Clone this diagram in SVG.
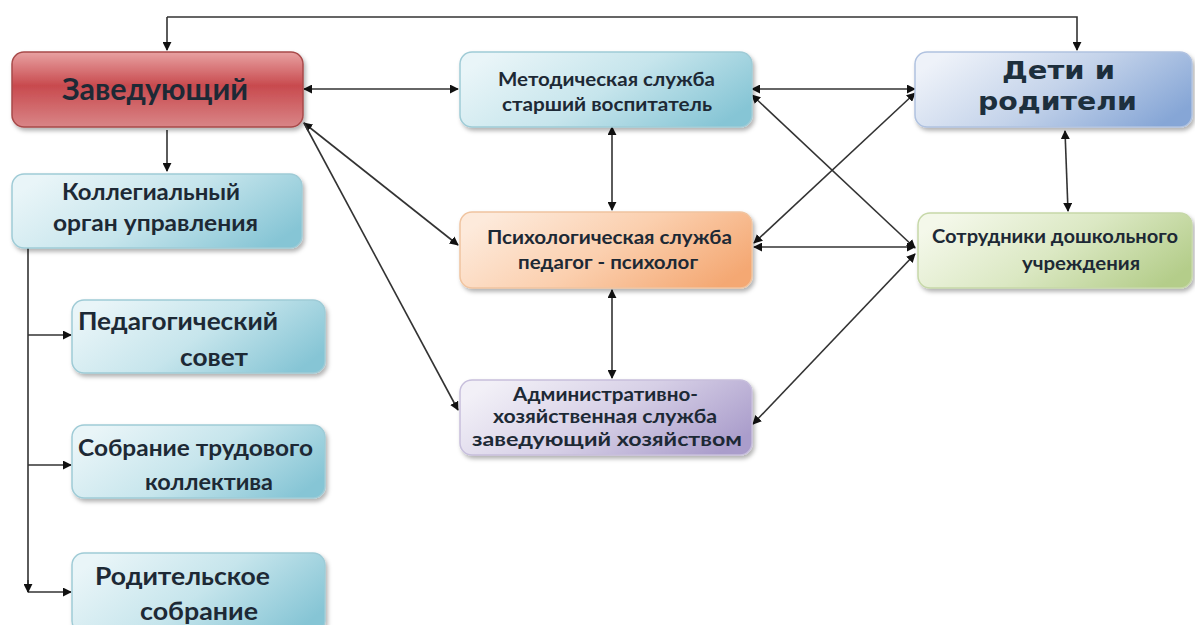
<svg xmlns="http://www.w3.org/2000/svg" width="1195" height="625" viewBox="0 0 1195 625">
<style>
.t{font-family:"Lato","Open Sans",sans-serif;font-weight:bold;fill:#1d2935}
.w{font-family:"DejaVu Sans","Verdana",sans-serif;font-weight:bold;fill:#1d2f3d}
.c{stroke:#333;stroke-width:1.6;fill:none}
.box{stroke-width:1.5}
</style>
<defs>
<marker id="ah" viewBox="0 0 10 10" refX="9" refY="5" markerWidth="9" markerHeight="9" orient="auto-start-reverse" markerUnits="userSpaceOnUse">
<path d="M0,0 L10,5 L0,10 z" fill="#111"/>
</marker>
<filter id="sh" x="-5%" y="-10%" width="115%" height="130%">
<feDropShadow dx="2" dy="3" stdDeviation="2" flood-color="#000" flood-opacity="0.3"/>
</filter>
<linearGradient id="gRed" x1="0" y1="0" x2="0" y2="1">
<stop offset="0" stop-color="#e8a2a2"/>
<stop offset="0.45" stop-color="#c84a4e"/>
<stop offset="1" stop-color="#d98587"/>
</linearGradient>
<linearGradient id="gCyan" x1="0" y1="0.3" x2="1" y2="0.7">
<stop offset="0" stop-color="#e9f5f8"/>
<stop offset="0.5" stop-color="#c6e5ec"/>
<stop offset="1" stop-color="#86c5d5"/>
</linearGradient>
<linearGradient id="gOr" x1="0" y1="0.3" x2="1" y2="0.7">
<stop offset="0" stop-color="#fdeadb"/>
<stop offset="0.5" stop-color="#fbcfae"/>
<stop offset="1" stop-color="#f4a873"/>
</linearGradient>
<linearGradient id="gPu" x1="0" y1="0.3" x2="1" y2="0.7">
<stop offset="0" stop-color="#f2f0f7"/>
<stop offset="0.5" stop-color="#d6cfe6"/>
<stop offset="1" stop-color="#aa9dcb"/>
</linearGradient>
<linearGradient id="gBl" x1="0" y1="0.3" x2="1" y2="0.7">
<stop offset="0" stop-color="#eef2f9"/>
<stop offset="0.5" stop-color="#c4d3ea"/>
<stop offset="1" stop-color="#86a6d6"/>
</linearGradient>
<linearGradient id="gGr" x1="0" y1="0.3" x2="1" y2="0.7">
<stop offset="0" stop-color="#f4f8ea"/>
<stop offset="0.5" stop-color="#dbe8c3"/>
<stop offset="1" stop-color="#b4cd8a"/>
</linearGradient>
</defs>

<g id="connectors" class="c">
<polyline points="167,17 1077,17 1077,50" marker-end="url(#ah)"/>
<line x1="167" y1="17" x2="167" y2="50" marker-end="url(#ah)"/>
<line x1="167" y1="130" x2="167" y2="171" marker-end="url(#ah)"/>
<polyline points="28,248 28,592"/>
<line x1="28" y1="335" x2="71" y2="335" marker-end="url(#ah)"/>
<line x1="28" y1="465" x2="71" y2="465" marker-end="url(#ah)"/>
<line x1="28" y1="592" x2="71" y2="592" marker-end="url(#ah)"/>
<line x1="28" y1="580" x2="28" y2="592" marker-end="url(#ah)"/>
<line x1="304" y1="89" x2="458" y2="89" marker-start="url(#ah)" marker-end="url(#ah)"/>
<line x1="304" y1="123" x2="458" y2="245" marker-start="url(#ah)" marker-end="url(#ah)"/>
<line x1="304" y1="123" x2="458" y2="410" marker-end="url(#ah)"/>
<line x1="612" y1="127" x2="612" y2="210" marker-start="url(#ah)" marker-end="url(#ah)"/>
<line x1="612" y1="290" x2="612" y2="378" marker-start="url(#ah)" marker-end="url(#ah)"/>
<line x1="752" y1="89" x2="915" y2="89" marker-start="url(#ah)" marker-end="url(#ah)"/>
<line x1="752" y1="95" x2="915" y2="248" marker-start="url(#ah)" marker-end="url(#ah)"/>
<line x1="754" y1="243" x2="915" y2="93" marker-start="url(#ah)" marker-end="url(#ah)"/>
<line x1="754" y1="247" x2="915" y2="247" marker-start="url(#ah)" marker-end="url(#ah)"/>
<line x1="753" y1="424" x2="915" y2="254" marker-start="url(#ah)" marker-end="url(#ah)"/>
<line x1="1065" y1="131" x2="1068" y2="211" marker-start="url(#ah)" marker-end="url(#ah)"/>
</g>

<g id="n-zav">
<rect class="box" x="12" y="52" width="291" height="75" rx="12" fill="url(#gRed)" stroke="#a84a4a" filter="url(#sh)"/>
<text class="t" x="62" y="100" font-size="30" textLength="186" lengthAdjust="spacingAndGlyphs">Заведующий</text>
</g>
<g id="n-koll">
<rect class="box" x="12" y="174" width="290" height="74" rx="12" fill="url(#gCyan)" stroke="#9fcbd6" filter="url(#sh)"/>
<text class="t" x="62" y="200" font-size="23" textLength="178" lengthAdjust="spacingAndGlyphs">Коллегиальный</text>
<text class="t" x="53" y="231" font-size="23" textLength="205" lengthAdjust="spacingAndGlyphs">орган управления</text>
</g>
<g id="n-ped">
<rect class="box" x="72" y="300" width="253" height="73" rx="12" fill="url(#gCyan)" stroke="#9fcbd6" filter="url(#sh)"/>
<text class="t" x="78" y="330" font-size="24" textLength="200" lengthAdjust="spacingAndGlyphs">Педагогический</text>
<text class="t" x="180" y="366" font-size="24" textLength="68" lengthAdjust="spacingAndGlyphs">совет</text>
</g>
<g id="n-sobr">
<rect class="box" x="72" y="425" width="253" height="73" rx="12" fill="url(#gCyan)" stroke="#9fcbd6" filter="url(#sh)"/>
<text class="t" x="78" y="456" font-size="23" textLength="235" lengthAdjust="spacingAndGlyphs">Собрание трудового</text>
<text class="t" x="145" y="490" font-size="23" textLength="128" lengthAdjust="spacingAndGlyphs">коллектива</text>
</g>
<g id="n-rod">
<rect class="box" x="72" y="553" width="253" height="80" rx="12" fill="url(#gCyan)" stroke="#9fcbd6" filter="url(#sh)"/>
<text class="t" x="95" y="585" font-size="25" textLength="175" lengthAdjust="spacingAndGlyphs">Родительское</text>
<text class="t" x="140" y="620" font-size="25" textLength="118" lengthAdjust="spacingAndGlyphs">собрание</text>
</g>
<g id="n-met">
<rect class="box" x="460" y="52" width="292" height="75" rx="12" fill="url(#gCyan)" stroke="#9fcbd6" filter="url(#sh)"/>
<text class="t" x="498" y="86" font-size="19" textLength="217" lengthAdjust="spacingAndGlyphs">Методическая служба</text>
<text class="t" x="502" y="111" font-size="19" textLength="210" lengthAdjust="spacingAndGlyphs">старший воспитатель</text>
</g>
<g id="n-psy">
<rect class="box" x="460" y="212" width="292" height="76" rx="12" fill="url(#gOr)" stroke="#f0c4a0" filter="url(#sh)"/>
<text class="t" x="487" y="244" font-size="19" textLength="245" lengthAdjust="spacingAndGlyphs">Психологическая служба</text>
<text class="t" x="518" y="269" font-size="19" textLength="180" lengthAdjust="spacingAndGlyphs">педагог - психолог</text>
</g>
<g id="n-adm">
<rect class="box" x="460" y="380" width="292" height="75" rx="12" fill="url(#gPu)" stroke="#c7bfdc" filter="url(#sh)"/>
<text class="t" x="513" y="401" font-size="18" textLength="185" lengthAdjust="spacingAndGlyphs">Административно-</text>
<text class="t" x="493" y="423" font-size="18" textLength="224" lengthAdjust="spacingAndGlyphs">хозяйственная служба</text>
<text class="t" x="472" y="446" font-size="18" textLength="270" lengthAdjust="spacingAndGlyphs">заведующий хозяйством</text>
</g>
<g id="n-deti">
<rect class="box" x="915" y="52" width="277" height="75" rx="12" fill="url(#gBl)" stroke="#b0c2e0" filter="url(#sh)"/>
<text class="w" x="1002" y="79" font-size="25" textLength="113" lengthAdjust="spacingAndGlyphs">Дети и</text>
<text class="w" x="978" y="110" font-size="25" textLength="159" lengthAdjust="spacingAndGlyphs">родители</text>
</g>
<g id="n-sotr">
<rect class="box" x="918" y="213" width="274" height="75" rx="12" fill="url(#gGr)" stroke="#c6d8a8" filter="url(#sh)"/>
<text class="t" x="932" y="243" font-size="18" textLength="246" lengthAdjust="spacingAndGlyphs">Сотрудники дошкольного</text>
<text class="t" x="1022" y="270" font-size="18" textLength="118" lengthAdjust="spacingAndGlyphs">учреждения</text>
</g>
</svg>
